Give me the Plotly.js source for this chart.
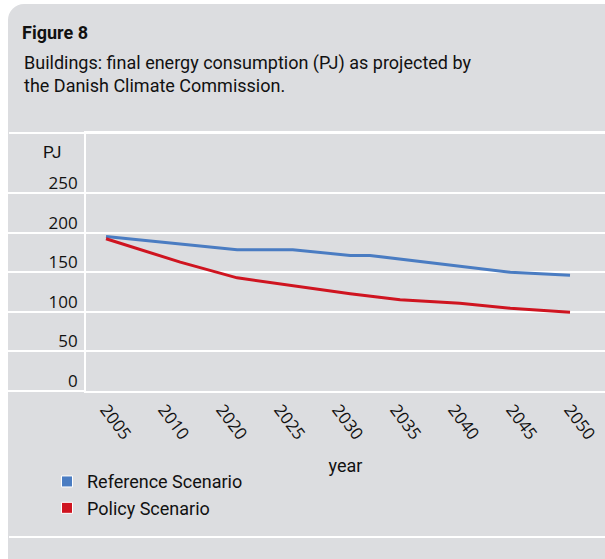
<!DOCTYPE html>
<html>
<head>
<meta charset="utf-8">
<script src="https://cdn.plot.ly/plotly-3.0.1.min.js"></script>
<style>
  html, body { margin: 0; padding: 0; background: #ffffff; width: 605px; height: 559px; overflow: hidden; }
  #panel { position: absolute; left: 8px; top: 4px; width: 620px; height: 580px; background: #dcdde0; border-radius: 16px 16px 0 0; }
  .sep { position: absolute; left: 9px; width: 600px; height: 2px; background: #ffffff; }
  #chart { position: absolute; left: 0; top: 0; width: 605px; height: 559px; }
</style>
</head>
<body>
<div id="panel"></div>
<div class="sep" style="top:132px"></div>
<div class="sep" style="top:536px"></div>
<div id="chart"></div>
<script>
// Category tick labels (equally spaced positions 0..8)
const yearLabels = ['2005', '2010', '2020', '2025', '2030', '2035', '2040', '2045', '2050'];
const yearPositions = [0, 1, 2, 3, 4, 5, 6, 7, 8];

// Reference Scenario: positions (in category units) and PJ values
const refPos    = [0, 2.26, 3.22, 4.21, 4.55, 6.97, 8];
const refValues = [195.3, 178.5, 178.5, 171.3, 171.3, 150.1, 146.3];

// Policy Scenario
const polPos    = [0, 1.28, 2.26, 3.22, 4.21, 5.07, 6.10, 6.97, 8];
const polValues = [192.4, 162.8, 143.0, 133.3, 122.8, 115.2, 110.9, 104.6, 99.5];

const yTicks = [0, 50, 100, 150, 200, 250];

const refColor = '#4a7cc2';
const polColor = '#cf1420';
const textFont = 'Roboto, "Noto Sans", sans-serif';
const numFont = '"Open Sans", "Noto Sans", sans-serif';

const traces = [
  { x: refPos, y: refValues, type: 'scatter', mode: 'lines', name: 'Reference Scenario',
    line: { color: refColor, width: 3 }, showlegend: false, hoverinfo: 'skip' },
  { x: polPos, y: polValues, type: 'scatter', mode: 'lines', name: 'Policy Scenario',
    line: { color: polColor, width: 3 }, showlegend: false, hoverinfo: 'skip' },
  { x: [null], y: [null], type: 'scatter', mode: 'markers', name: 'Reference Scenario',
    marker: { symbol: 'square', size: 11, color: refColor, line: { color: '#ffffff', width: 1 } } },
  { x: [null], y: [null], type: 'scatter', mode: 'markers', name: 'Policy Scenario',
    marker: { symbol: 'square', size: 11, color: polColor, line: { color: '#ffffff', width: 1 } } }
];

const layout = {
  width: 605, height: 559,
  paper_bgcolor: 'rgba(0,0,0,0)',
  plot_bgcolor: 'rgba(0,0,0,0)',
  margin: { l: 86, r: 0, t: 133, b: 168, pad: 0 },
  title: {
    text: '<b>Figure 8</b>',
    x: 22 / 605, xanchor: 'left', xref: 'container',
    y: 1 - 33 / 559, yanchor: 'middle', yref: 'container',
    font: { family: textFont, size: 18, color: '#111111' }
  },
  xaxis: {
    type: 'linear',
    range: [-0.345, 8.603],
    tickmode: 'array', tickvals: yearPositions, ticktext: yearLabels,
    tickangle: 53,
    showgrid: false, zeroline: false,
    showline: true, mirror: true, linecolor: '#ffffff', linewidth: 2,
    ticks: '',
    tickfont: { family: numFont, size: 17, color: '#111111' },
    title: { text: 'year', font: { family: textFont, size: 18, color: '#111111' }, standoff: 16 },
    fixedrange: true
  },
  yaxis: {
    range: [0, 326],
    tickmode: 'array', tickvals: yTicks,
    showgrid: true, gridcolor: '#ffffff', gridwidth: 2,
    zeroline: false,
    showline: true, linecolor: '#ffffff', linewidth: 2,
    ticks: 'outside', ticklen: 77, tickwidth: 2, tickcolor: '#ffffff',
    ticklabelstandoff: -74,
    ticklabelshift: -10,
    tickfont: { family: numFont, size: 17, color: '#111111' },
    fixedrange: true
  },
  legend: {
    orientation: 'v',
    x: (47 - 86) / 519, xanchor: 'left',
    y: -0.28, yanchor: 'top',
    bgcolor: 'rgba(0,0,0,0)',
    font: { family: textFont, size: 18, color: '#111111' },
    itemwidth: 30,
    tracegroupgap: 0
  },
  annotations: [
    { text: 'PJ', xref: 'paper', yref: 'paper', x: (41 - 86) / 519, y: (391 - 152) / 258,
      xanchor: 'left', yanchor: 'middle', showarrow: false,
      font: { family: textFont, size: 17, color: '#111111' } },
    { text: 'Buildings: final energy consumption (PJ) as projected by<br>the Danish Climate Commission.',
      xref: 'paper', yref: 'paper', x: (22 - 86) / 519, y: (391 - 73.5) / 258,
      xanchor: 'left', yanchor: 'middle', align: 'left', showarrow: false,
      font: { family: textFont, size: 18, color: '#111111' } }
  ]
};

Plotly.newPlot('chart', traces, layout, { displayModeBar: false, staticPlot: true });
</script>
</body>
</html>
